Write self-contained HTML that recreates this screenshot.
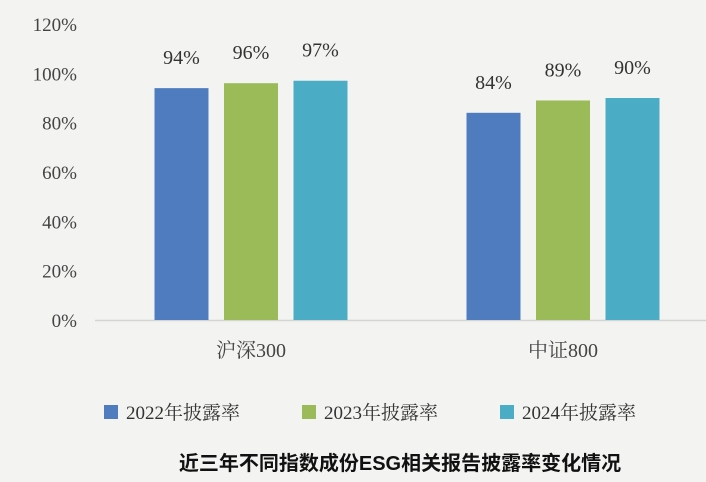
<!DOCTYPE html>
<html><head><meta charset="utf-8"><style>
body{margin:0;background:#f3f3f1;}
svg{display:block;font-family:"Liberation Serif","Noto Serif CJK SC",serif;}
</style></head><body>
<svg width="706" height="482" viewBox="0 0 706 482">
<rect width="706" height="482" fill="#f3f3f1"/>
<g id="ticks"></g>
<line x1="95" y1="320.5" x2="706" y2="320.5" stroke="#d4d4d4" stroke-width="1.5"/>
<g id="bars"></g>
<g id="legend"></g>
<text x="400" y="470" text-anchor="middle" font-family="'Liberation Sans','Noto Sans CJK SC',sans-serif" font-weight="bold" font-size="20" fill="#111">近三年不同指数成份ESG相关报告披露率变化情况</text>
</svg>
<script>
const categories=["沪深300","中证800"];
const seriesNames=["2022年披露率","2023年披露率","2024年披露率"];
const s2022=[94,84];
const s2023=[96,89];
const s2024=[97,90];
const tickValues=[0,20,40,60,80,100,120];
const tickLabels=["0%","20%","40%","60%","80%","100%","120%"];
const colors=["#4f7cbf","#9bbb59","#4bacc6"];
const NS="http://www.w3.org/2000/svg";
const y0=320,pxPer=(320-24)/120;
function y(v){return y0-v*pxPer;}
const bandStart=95,band=312;
function cx(i){return bandStart+band*(i+0.5);}
function mk(tag,attrs,parent){const e=document.createElementNS(NS,tag);for(const k in attrs)e.setAttribute(k,attrs[k]);parent.appendChild(e);return e;}
const tg=document.getElementById('ticks');
tickValues.forEach((v,i)=>{const t=mk('text',{x:77,y:y(v)+7,'text-anchor':'end','font-size':19,fill:'#444'},tg);


t.textContent=tickLabels[i];});
const bg=document.getElementById('bars');
const series=[s2022,s2023,s2024];
const bw=54,step=69.5;
categories.forEach((c,ci)=>{
 series.forEach((s,si)=>{
  const x=cx(ci)+(si-1)*step-bw/2;
  const r=mk('rect',{x:x,y:y(s[ci]),width:bw,height:y0-y(s[ci]),fill:colors[si]},bg);
  
  
  const t=mk('text',{x:x+bw/2,y:y(s[ci])-24,'text-anchor':'middle','font-size':20,fill:'#333'},bg);
  
  
  t.textContent=s[ci]+'%';
 });
 const l=mk('text',{x:cx(ci),y:357,'text-anchor':'middle','font-size':20,fill:'#444'},bg);
 
 
 l.textContent=c;
});
const lg=document.getElementById('legend');
const lx=[104,302,500];
seriesNames.forEach((n,i)=>{
 const r=mk('rect',{x:lx[i],y:405,width:14,height:14,fill:colors[i]},lg);
 
 
 const t=mk('text',{x:lx[i]+22,y:419,'font-size':19,fill:'#333'},lg);
 
 
 t.textContent=n;
});
</script>
</body></html>
